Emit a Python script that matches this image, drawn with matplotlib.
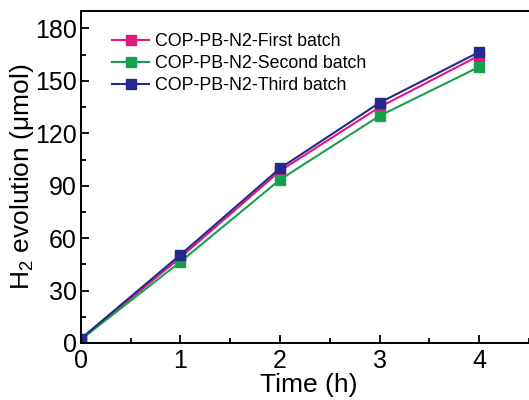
import numpy as np
import matplotlib.pyplot as plt
from matplotlib.ticker import MultipleLocator

plt.rcParams['font.family'] = ['Liberation Sans', 'DejaVu Sans']
plt.rcParams['mathtext.fontset'] = 'custom'
plt.rcParams['mathtext.rm'] = 'Liberation Sans'

time_h = [0, 1, 2, 3, 4]
first_batch = [2, 49, 98.5, 135, 164.5]
second_batch = [2, 46.5, 93.5, 130, 158]
third_batch = [2.5, 50.5, 100, 137.5, 166.5]

labels = ["COP-PB-N2-First batch", "COP-PB-N2-Second batch", "COP-PB-N2-Third batch"]
colors = ["#e2187f", "#17a14f", "#232a8c"]

fig = plt.figure(figsize=(5.29, 4.0), dpi=100)
ax = fig.add_axes([0.153, 0.1425, 0.86, 0.83])

for ys, lab, c in zip([first_batch, second_batch, third_batch], labels, colors):
    ax.plot(time_h, ys, color=c, lw=1.5, marker='s', markersize=7, label=lab)

ax.set_xlim(0, 4.57)
ax.set_ylim(0, 190)
ax.xaxis.set_major_locator(MultipleLocator(1))
ax.xaxis.set_minor_locator(MultipleLocator(0.5))
ax.yaxis.set_major_locator(MultipleLocator(30))
ax.yaxis.set_minor_locator(MultipleLocator(15))
ax.tick_params(which='both', direction='in', labelsize=18, width=1.3)
ax.tick_params(which='major', length=6)
ax.tick_params(which='minor', length=3.5)
ax.tick_params(axis='x', pad=4)
ax.tick_params(axis='y', pad=3)
for s in ax.spines.values():
    s.set_linewidth(1.4)

ax.set_xlabel("Time (h)", fontsize=19, labelpad=0)
ax.set_ylabel("H$_2$ evolution (μmol)", fontsize=19)
ax.yaxis.set_label_coords(-0.098, 0.5)

ax.legend(loc='upper left', bbox_to_anchor=(0.045, 0.965), frameon=False,
          fontsize=12.8, handlelength=2.1, handletextpad=0.3, labelspacing=0.28,
          borderaxespad=0.2)

fig.savefig("out.png", dpi=100)
